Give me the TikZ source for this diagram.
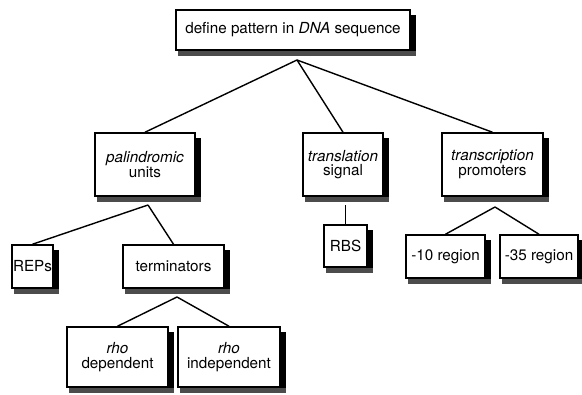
\documentclass[tikz,border=0pt]{standalone}
\usepackage{fontspec}
\setmainfont{TeX Gyre Heros}
\usetikzlibrary{calc}

\begin{document}
\begin{tikzpicture}[x=0.03cm, y=-0.03cm]

\tikzset{box/.style={draw, line width=1.3pt, fill=white, align=center, inner sep=0pt,
  font=\fontsize{13}{12.5}\selectfont},
  link/.style={line width=1.2pt}}
\newcommand{\boxshadow}[1]{%
  \fill ($(#1.north east)+(0.5,6)$) rectangle ($(#1.south east)+(5,5)$);
  \fill[black!70] ($(#1.south west)+(3,0.5)$) rectangle ($(#1.south east)+(5,5)$);}

	\useasboundingbox (0,0) rectangle (582,395);

	\node[box, minimum width=7.02cm, minimum height=1.2cm] (root) at (293,30) {define pattern in \textit{DNA} sequence};

	\node[box, minimum width=3cm, minimum height=1.89cm] (pal) at (145,164.5) {\textit{palindromic}\\units};
	\node[box, minimum width=2.4cm, minimum height=1.89cm] (trl) at (343,164.5) {\textit{translation}\\signal};
	\node[box, minimum width=3.03cm, minimum height=1.89cm] (trc) at (492.5,164.5) {\textit{transcription}\\promoters};

	\node[box, minimum width=1.23cm, minimum height=1.29cm] (reps) at (32.5,266.5) {REPs};
	\node[box, minimum width=3.03cm, minimum height=1.29cm] (term) at (173.5,266.5) {terminators};

	\node[box, minimum width=3.03cm, minimum height=1.8cm] (rhod) at (117.5,357) {\textit{rho}\\dependent};
	\node[box, minimum width=3.06cm, minimum height=1.8cm] (rhoi) at (229,357) {\textit{rho}\\independent};

	\node[box, minimum width=1.29cm, minimum height=1.26cm] (rbs) at (345.5,246) {RBS};
	\node[box, minimum width=2.37cm, minimum height=1.29cm] (m10) at (445.5,256.5) {-10 region};
	\node[box, minimum width=2.34cm, minimum height=1.29cm] (m35) at (539,256.5) {-35 region};

	\foreach \b in {root,pal,trl,trc,reps,term,rhod,rhoi,rbs,m10,m35}
		\boxshadow{\b};

	\coordinate (rootfork) at (297,60);
	\coordinate (palfork) at (148,205);
	\coordinate (termfork) at (177,297);
	\coordinate (trlfork) at (345.5,205);
	\coordinate (trcfork) at (495,207);

	\draw[link] (rootfork) -- (pal.north);
	\draw[link] (rootfork) -- (trl.north);
	\draw[link] (rootfork) -- (trc.north);

	\draw[link] (palfork) -- (reps.north);
	\draw[link] (palfork) -- (term.north);

	\draw[link] (termfork) -- (rhod.north);
	\draw[link] (termfork) -- (rhoi.north);

	\draw[link] (trlfork) -- (rbs.north);

	\draw[link] (trcfork) -- (m10.north);
	\draw[link] (trcfork) -- (m35.north);
\end{tikzpicture}
\end{document}
